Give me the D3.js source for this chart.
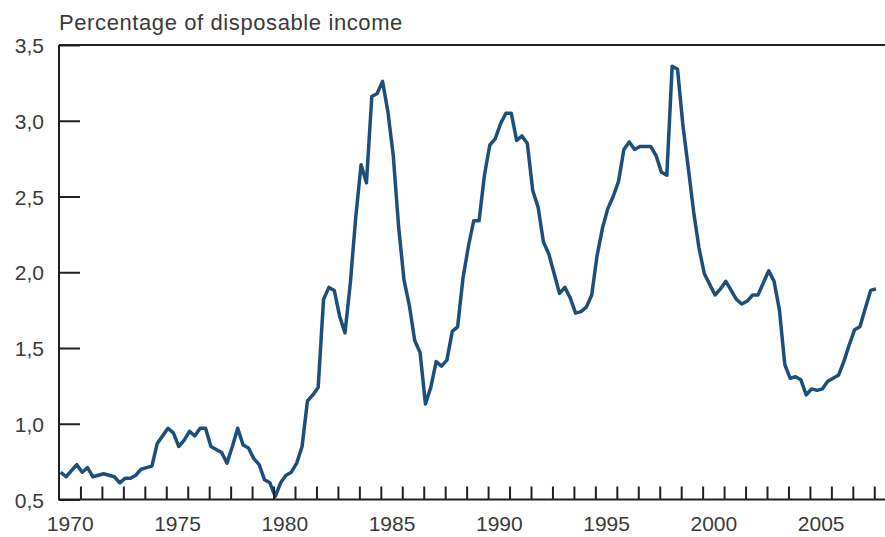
<!DOCTYPE html>
<html>
<head>
<meta charset="utf-8">
<script src="https://cdn.jsdelivr.net/npm/d3@7"></script>
<style>
  html, body { margin: 0; padding: 0; background: #fff; }
  svg { display: block; font-family: "Liberation Sans", Arial, sans-serif; }
</style>
</head>
<body>
<svg id="chart" width="885" height="537"></svg>
<script>
// ---- data (quarterly, starting 1970 Q1) ----
const startYear = 1970;
const values = [
  0.68, 0.65, 0.69, 0.73, 0.68, 0.71, 0.65, 0.66, 0.67, 0.66, 0.65, 0.61, 0.64, 0.64, 0.66, 0.70, 0.71, 0.72, 0.87, 0.92, 0.97, 0.94, 0.85, 0.89, 0.95,
  0.92, 0.97, 0.97, 0.85, 0.83, 0.81, 0.74, 0.85, 0.97, 0.86, 0.84, 0.77, 0.73, 0.63, 0.61, 0.52, 0.61, 0.66, 0.68, 0.74, 0.85, 1.15, 1.19, 1.24, 1.82,
  1.90, 1.88, 1.71, 1.60, 1.93, 2.36, 2.71, 2.59, 3.16, 3.18, 3.26, 3.06, 2.77, 2.30, 1.95, 1.78, 1.55, 1.47, 1.13, 1.24, 1.41, 1.38, 1.42, 1.61, 1.64,
  1.96, 2.17, 2.34, 2.34, 2.64, 2.84, 2.88, 2.98, 3.05, 3.05, 2.87, 2.90, 2.85, 2.54, 2.43, 2.20, 2.12, 1.99, 1.86, 1.90, 1.83, 1.73, 1.74, 1.77, 1.85,
  2.11, 2.29, 2.42, 2.50, 2.60, 2.81, 2.86, 2.81, 2.83, 2.83, 2.83, 2.77, 2.66, 2.64, 3.36, 3.34, 2.97, 2.69, 2.40, 2.16, 1.99, 1.92, 1.85, 1.89, 1.94,
  1.88, 1.82, 1.79, 1.81, 1.85, 1.85, 1.93, 2.01, 1.94, 1.75, 1.39, 1.30, 1.31, 1.29, 1.19, 1.23, 1.22, 1.23, 1.28, 1.30, 1.32, 1.41, 1.52, 1.62, 1.64, 1.76, 1.88, 1.89
];
const yTicks = [0.5, 1.0, 1.5, 2.0, 2.5, 3.0, 3.5];
const yearTicks = d3.range(1971, 2009);
const yearLabels = [1970, 1975, 1980, 1985, 1990, 1995, 2000, 2005];
const title = "Percentage of disposable income";

// ---- layout ----
const mLeft = 59, mRight = 885, mTop = 45, mBottom = 499.5;
const x = d3.scaleLinear().domain([1970, 2008.5]).range([mLeft, mRight]);
const y = d3.scaleLinear().domain([0.5, 3.5]).range([mBottom, mTop]);
const axisColor = "#231f20";
const textColor = "#3a3a3a";

const svg = d3.select("#chart");

const points = values.map((v, i) => ({ t: startYear + i / 4 + 0.08, v }));

// line
svg.append("path")
  .datum(points)
  .attr("fill", "none")
  .attr("stroke", "#1d4f7c")
  .attr("stroke-width", 3.5)
  .attr("stroke-linejoin", "round")
  .attr("d", d3.line().x(d => x(d.t)).y(d => y(d.v)));

// y axis (ticks inside, pointing right)
const yAxis = svg.append("g")
  .attr("transform", `translate(${mLeft},0)`)
  .call(d3.axisLeft(y).tickValues(yTicks).tickSize(-21).tickPadding(15)
    .tickFormat(d => d3.format(".1f")(d).replace(".", ",")));
yAxis.select(".domain").remove();
yAxis.selectAll(".tick line").attr("stroke", axisColor).attr("stroke-width", 2);
yAxis.selectAll(".tick text")
  .attr("fill", textColor)
  .style("font-size", "21px")
  .attr("dy", "0.36em");

// left spine
svg.append("line")
  .attr("x1", mLeft).attr("x2", mLeft)
  .attr("y1", y(3.5)).attr("y2", y(0.5))
  .attr("stroke", axisColor).attr("stroke-width", 2);

// top frame line at 3.5
svg.append("line")
  .attr("x1", mLeft).attr("x2", mRight)
  .attr("y1", y(3.5)).attr("y2", y(3.5))
  .attr("stroke", axisColor).attr("stroke-width", 2);

// x axis: yearly ticks pointing up
const xAxis = svg.append("g")
  .attr("transform", `translate(0,${mBottom})`)
  .call(d3.axisBottom(x).tickValues(yearTicks).tickSize(-13).tickFormat(""));
xAxis.select(".domain").remove();
xAxis.selectAll(".tick line").attr("stroke", axisColor).attr("stroke-width", 2);

svg.append("line")
  .attr("x1", mLeft - 1).attr("x2", mRight)
  .attr("y1", mBottom).attr("y2", mBottom)
  .attr("stroke", axisColor).attr("stroke-width", 2);

// x labels centred in the year interval
const xLab = svg.append("g")
  .attr("transform", `translate(0,${mBottom})`)
  .call(d3.axisBottom(x).tickValues(yearLabels.map(yv => yv + 0.5)).tickSize(0).tickPadding(17)
    .tickFormat(d => String(Math.floor(d))));
xLab.select(".domain").remove();
xLab.selectAll(".tick text")
  .attr("fill", textColor)
  .style("font-size", "21px");

// title
svg.append("text")
  .attr("x", 59)
  .attr("y", 30)
  .attr("fill", textColor)
  .style("font-size", "22px")
  .style("letter-spacing", "0.6px")
  .text(title);
</script>
</body>
</html>
